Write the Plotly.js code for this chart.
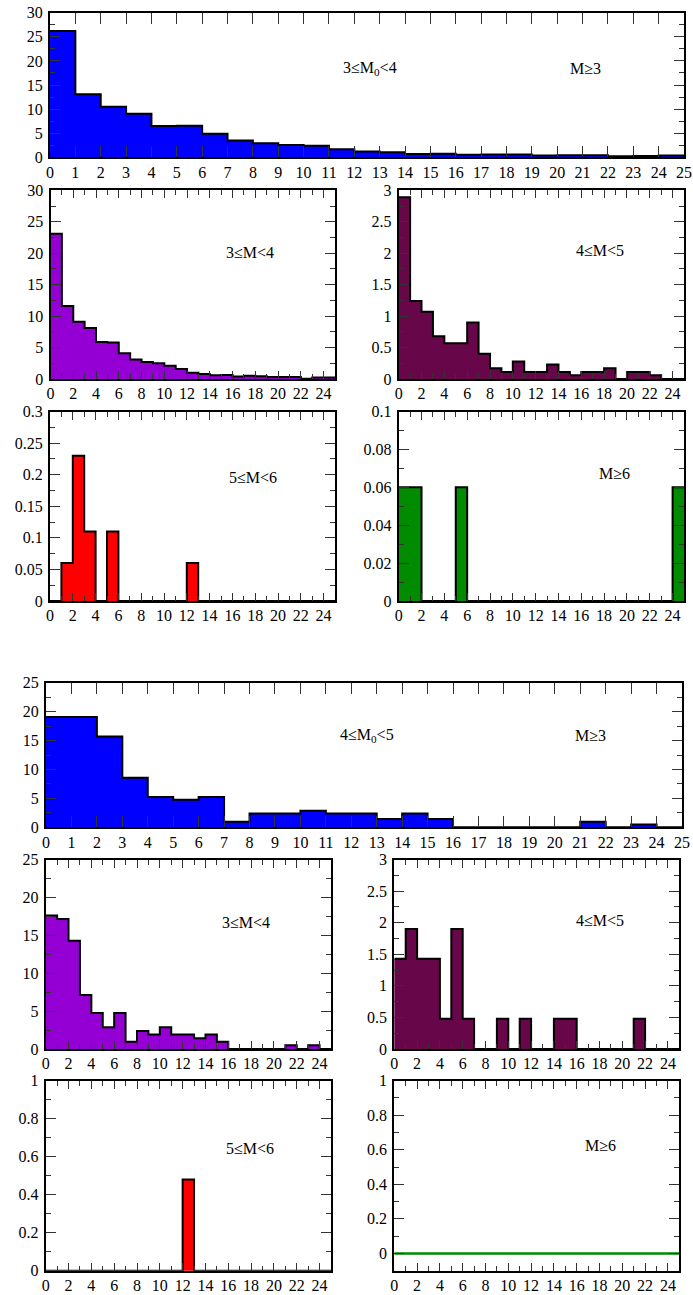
<!DOCTYPE html>
<html>
<head>
<meta charset="utf-8">
<script src="https://cdn.plot.ly/plotly-3.0.1.min.js"></script>
<style>html,body{margin:0;padding:0;background:#fff;}#plot{width:693px;height:1295px;}</style>
</head>
<body>
<div id="plot"></div>
<script>
// ---------- DATA ----------
const binEdges = [0,1,2,3,4,5,6,7,8,9,10,11,12,13,14,15,16,17,18,19,20,21,22,23,24,25];
const binCenters = [0.5,1.5,2.5,3.5,4.5,5.5,6.5,7.5,8.5,9.5,10.5,11.5,12.5,13.5,14.5,15.5,16.5,17.5,18.5,19.5,20.5,21.5,22.5,23.5,24.5];

// Group 1: 3 <= M0 < 4
const g1_all = [26.2,13.1,10.5,9.05,6.5,6.55,4.9,3.5,2.9,2.55,2.4,1.65,1.2,1.05,0.7,0.75,0.55,0.6,0.6,0.35,0.4,0.45,0.2,0.25,0.35];
const g1_m34 = [23.1,11.6,9.1,8.1,5.9,5.8,4.1,3.1,2.7,2.5,2.1,1.6,1.0,0.8,0.6,0.65,0.4,0.5,0.45,0.3,0.3,0.3,0.05,0.25,0.25];
const g1_m45 = [2.89,1.24,1.07,0.68,0.57,0.57,0.9,0.4,0.17,0.11,0.28,0.11,0.11,0.23,0.11,0.06,0.11,0.11,0.17,0,0.11,0.11,0.06,0,0];
const g1_m56 = [0,0.06,0.23,0.11,0,0.11,0,0,0,0,0,0,0.06,0,0,0,0,0,0,0,0,0,0,0,0];
const g1_m6  = [0.06,0.06,0,0,0,0.06,0,0,0,0,0,0,0,0,0,0,0,0,0,0,0,0,0,0,0.06];

// Group 2: 4 <= M0 < 5
const g2_all = [19.05,19.05,15.71,8.57,5.24,4.76,5.24,0.95,2.38,2.38,2.86,2.38,2.38,1.43,2.38,1.43,0,0,0,0,0,0.95,0,0.48,0];
const g2_m34 = [17.62,17.14,14.29,7.14,4.76,2.86,4.76,0.95,2.38,1.90,2.86,1.90,1.90,1.43,1.90,0.95,0,0,0,0,0,0.48,0,0.48,0];
const g2_m45 = [1.43,1.90,1.43,1.43,0.48,1.90,0.48,0,0,0.48,0,0.48,0,0,0.48,0.48,0,0,0,0,0,0.48,0,0,0];
const g2_m56 = [0,0,0,0,0,0,0,0,0,0,0,0,0.48,0,0,0,0,0,0,0,0,0,0,0,0];
const g2_m6  = [0,0,0,0,0,0,0,0,0,0,0,0,0,0,0,0,0,0,0,0,0,0,0,0,0];

const topTickVals = [0,1,2,3,4,5,6,7,8,9,10,11,12,13,14,15,16,17,18,19,20,21,22,23,24,25];
const subTickVals = [0,2,4,6,8,10,12,14,16,18,20,22,24];

// ---------- STYLE ----------
const W = 693, H = 1295;
const FONT = 'Liberation Serif';
const BLUE = '#0000ff', VIOLET = '#9400d3', MAROON = '#67074a', RED = '#ff0000', GREEN = '#008b00';

const panels = [
  {vals:g1_all, color:BLUE,   box:[50,684,12.7,157.3],  yr:[0,30],   dy:5,    my:2.5,   top:true,  labels:[['3≤M<sub>0</sub>&lt;4',370,68],['M≥3',585,68]]},
  {vals:g1_m34, color:VIOLET, box:[50.5,335,190.3,379], yr:[0,30],   dy:5,    my:2.5,   labels:[['3≤M&lt;4',250,253]]},
  {vals:g1_m45, color:MAROON, box:[398.7,684,190.3,379],yr:[0,3],    dy:0.5,  my:0.25,  labels:[['4≤M&lt;5',600,250]]},
  {vals:g1_m56, color:RED,    box:[50,335,411.5,601],   yr:[0,0.3],  dy:0.05, my:0.025, labels:[['5≤M&lt;6',253,478]]},
  {vals:g1_m6,  color:GREEN,  box:[398.7,684,411.5,601],yr:[0,0.1],  dy:0.02, my:0.01,  labels:[['M≥6',614,473]]},
  {vals:g2_all, color:BLUE,   box:[46,682,682.7,827.3], yr:[0,25],   dy:5,    my:2.5,   top:true,  labels:[['4≤M<sub>0</sub>&lt;5',367,735],['M≥3',590,735]]},
  {vals:g2_m34, color:VIOLET, box:[45.7,331,859.5,1049],yr:[0,25],   dy:5,    my:2.5,   labels:[['3≤M&lt;4',246,922]]},
  {vals:g2_m45, color:MAROON, box:[394.3,679.3,859.5,1049],yr:[0,3], dy:0.5,  my:0.25,  labels:[['4≤M&lt;5',600,920]]},
  {vals:g2_m56, color:RED,    box:[45.7,331,1080.7,1270.7],yr:[0,1], dy:0.2,  my:0.1,   labels:[['5≤M&lt;6',250,1148]]},
  {vals:g2_m6,  color:GREEN,  box:[394.3,679.3,1080.7,1270.7],yr:[-0.1,1],dy:0.2,my:0.1, empty:true, labels:[['M≥6',600,1145]]}
];

const traces = [];
const layout = {
  width: W, height: H,
  margin: {l:0,r:0,t:0,b:0},
  paper_bgcolor: '#fff', plot_bgcolor: '#fff',
  showlegend: false, bargap: 0,
  font: {family: FONT, color: '#000', size: 16},
  annotations: []
};

panels.forEach((p, i) => {
  const n = i + 1;
  const xa = 'xaxis' + (n === 1 ? '' : n);
  const ya = 'yaxis' + (n === 1 ? '' : n);
  const xr = 'x' + (n === 1 ? '' : n);
  const yr = 'y' + (n === 1 ? '' : n);
  const [l, r, t, b] = p.box;

  // filled bins (empty bins are not drawn)
  traces.push({
    type: 'bar', x: binCenters, y: p.vals.map(v => (v === 0 ? null : v)), width: 1,
    xaxis: xr, yaxis: yr,
    marker: {color: p.color, line: {width: 0}},
    hoverinfo: 'skip'
  });
  // step outline: one y per bin edge, last value repeated
  const ys = p.vals.concat([p.vals[p.vals.length - 1]]);
  traces.push({
    type: 'scatter', mode: 'lines',
    x: binEdges, y: ys,
    xaxis: xr, yaxis: yr,
    line: {shape: 'hv', color: p.empty ? GREEN : '#000', width: p.empty ? 2.5 : 2},
    hoverinfo: 'skip'
  });

  const common = {
    showline: true, linecolor: '#000', linewidth: 2, mirror: 'allticks',
    ticks: 'inside', tickcolor: '#333', tickwidth: 1,
    showgrid: false, zeroline: false, fixedrange: true,
    tickfont: {family: FONT, size: 16, color: '#000'}
  };
  layout[xa] = Object.assign({}, common, {
    domain: [l / W, r / W],
    range: [0, 25],
    anchor: yr,
    tickmode: 'array',
    tickvals: p.top ? topTickVals : subTickVals,
    ticktext: (p.top ? topTickVals : subTickVals).map(String),
    ticklen: p.top ? 11 : 8,
    ticklabelstandoff: -1
  });
  if (!p.top) layout[xa].minor = {dtick: 1, tick0: 0, ticklen: 5, ticks: 'inside', tickcolor: '#333', tickwidth: 1};
  layout[ya] = Object.assign({}, common, {
    domain: [1 - b / H, 1 - t / H],
    range: p.yr,
    anchor: xr,
    dtick: p.dy, tick0: 0,
    ticklen: 10,
    ticklabelstandoff: 2,
    minor: {dtick: p.my, tick0: 0, ticklen: 5, ticks: 'inside', tickcolor: '#333', tickwidth: 1}
  });

  p.labels.forEach(([txt, px, py]) => {
    layout.annotations.push({
      xref: 'paper', yref: 'paper', x: px / W, y: 1 - py / H,
      xanchor: 'center', yanchor: 'middle', showarrow: false,
      text: txt, font: {family: FONT, size: 16, color: '#000'}
    });
  });
});

Plotly.newPlot('plot', traces, layout, {displayModeBar: false, staticPlot: true});
</script>
</body>
</html>
